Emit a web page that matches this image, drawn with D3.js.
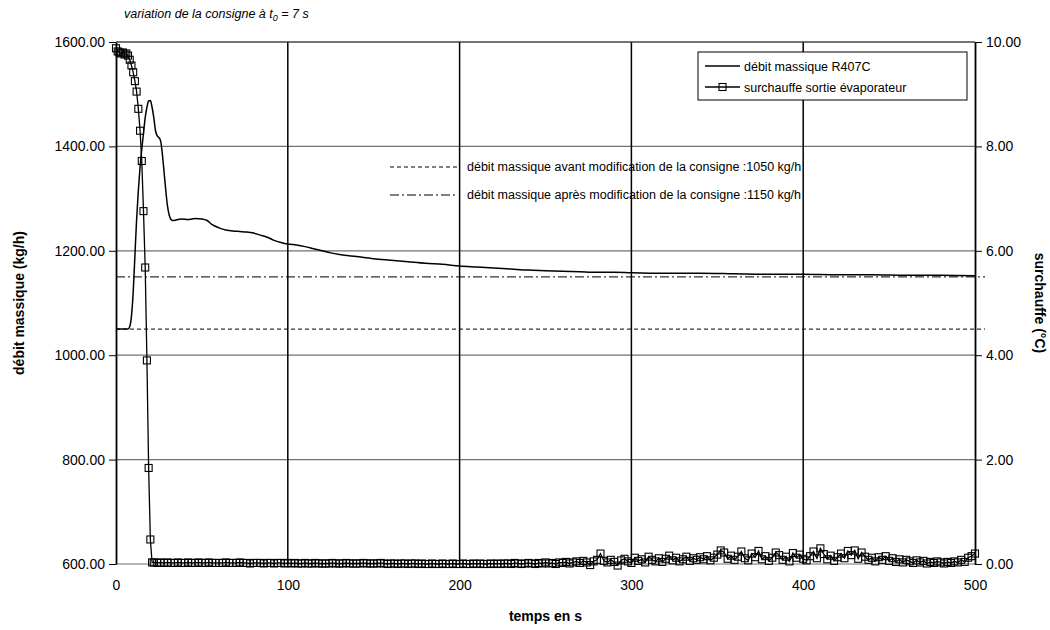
<!DOCTYPE html>
<html>
<head>
<meta charset="utf-8">
<script src="https://cdn.jsdelivr.net/npm/d3@7"></script>
<style>
  body { margin: 0; background: #fff; }
  svg { font-family: "Liberation Sans", Arial, sans-serif; }
</style>
</head>
<body>
<div id="chart"></div>
<script>
// mass flow R407C (kg/h), left axis
const flowTime = [0, 7, 8, 9, 10, 11, 12, 13, 14, 15, 16, 17, 18, 19, 20, 21, 22, 23, 24, 25, 26, 27, 28, 29, 30, 31, 32, 33, 35, 38, 42, 46, 50, 53, 56, 60, 64, 68, 72, 76, 80, 84, 88, 92, 96, 100, 105, 110, 115, 120, 125, 130, 140, 150, 160, 170, 180, 190, 200, 210, 220, 230, 240, 250, 260, 270, 280, 290, 300, 320, 340, 360, 380, 400, 420, 440, 460, 480, 500];
const flowValue = [1050, 1050, 1055, 1075, 1120, 1190, 1260, 1315, 1360, 1395, 1425, 1455, 1475, 1487, 1488, 1475, 1455, 1430, 1420, 1417, 1410, 1385, 1350, 1315, 1285, 1268, 1260, 1258, 1259, 1261, 1260, 1262, 1261, 1258, 1250, 1244, 1240, 1238, 1237, 1236, 1234, 1230, 1226, 1220, 1216, 1213, 1211, 1208, 1204, 1200, 1196, 1193, 1189, 1185, 1182, 1179, 1176, 1174, 1171, 1169, 1167, 1165, 1163, 1162, 1161, 1160, 1159, 1159, 1158, 1157, 1157, 1156, 1155, 1155, 1154, 1154, 1153, 1153, 1152];

// superheat at evaporator outlet (°C), right axis
const heatTimeStart = [0, 1, 2, 3, 4, 5, 6, 7, 8, 9, 10, 11, 12, 13, 14, 15, 16, 17, 18, 19, 20, 21];
const heatValueStart = [9.88, 9.82, 9.80, 9.78, 9.80, 9.76, 9.78, 9.74, 9.66, 9.55, 9.42, 9.25, 9.05, 8.72, 8.30, 7.72, 6.76, 5.68, 3.90, 1.84, 0.47, 0.03];
// from t = 22 s to 500 s, every 2 s
const heatValueTail = [
  0.03, 0.02, 0.03, 0.02, 0.03, 0.02, 0.02, 0.03, 0.02, 0.02,
  0.03, 0.02, 0.02, 0.03, 0.02, 0.02, 0.03, 0.02, 0.02, 0.02,
  0.02, 0.03, 0.02, 0.02, 0.02, 0.03, 0.02, 0.02, 0.01, 0.02,
  0.02, 0.02, 0.01, 0.02, 0.02, 0.01, 0.02, 0.02, 0.01, 0.02,
  0.01, 0.02, 0.01, 0.01, 0.02, 0.01, 0.01, 0.02, 0.01, 0.01,
  0.01, 0.01, 0.02, 0.01, 0.01, 0.01, 0.02, 0.01, 0.01, 0.01,
  0.01, 0.02, 0.01, 0.01, 0.01, 0.01, 0.02, 0.01, 0.00, 0.01,
  0.01, 0.00, 0.01, 0.01, 0.00, 0.01, 0.01, 0.00, 0.01, 0.00,
  0.00, 0.01, 0.00, 0.00, 0.01, 0.00, 0.00, 0.01, 0.00, 0.00,
  0.01, 0.00, 0.00, 0.01, 0.00, 0.01, 0.00, 0.00, 0.01, 0.00,
  0.01, 0.00, 0.01, 0.01, 0.00, 0.02, 0.01, 0.00, 0.01, 0.02,
  0.01, 0.00, 0.02, 0.01, 0.03, 0.01, 0.02, 0.00, 0.03, 0.02,
  0.04, 0.01, 0.03, 0.05, 0.02, 0.06, 0.03, -0.02, 0.05, 0.08,
  0.20, 0.06, 0.03, 0.08, 0.04, -0.03, 0.07, 0.10, 0.05, 0.02,
  0.12, 0.06, 0.09, 0.03, 0.14, 0.08, 0.05, 0.11, 0.04, 0.10,
  0.16, 0.07, 0.12, 0.05, 0.09, 0.14, 0.06, 0.11, 0.08, 0.13,
  0.09, 0.15, 0.07, 0.12, 0.18, 0.26, 0.22, 0.10, 0.16, 0.08,
  0.14, 0.24, 0.11, 0.07, 0.20, 0.13, 0.25, 0.09, 0.15, 0.06,
  0.12, 0.22, 0.17, 0.08, 0.14, 0.05, 0.21, 0.12, 0.18, 0.10,
  0.07, 0.15, 0.24, 0.11, 0.30, 0.19, 0.09, 0.16, 0.06, 0.13,
  0.20, 0.11, 0.25, 0.17, 0.26, 0.10, 0.22, 0.14, 0.08, 0.12,
  0.05, 0.13, 0.08, 0.15, 0.06, 0.11, 0.04, 0.09, 0.03, 0.08,
  0.05, 0.02, 0.07, 0.03, 0.06, 0.01, 0.04, 0.02, 0.05, 0.03,
  0.01, 0.04, 0.02, 0.05, 0.03, 0.08, 0.04, 0.12, 0.15, 0.20
];

// reference flow levels
const flowBefore = 1050;
const flowAfter = 1150;

const xTicks = [0, 100, 200, 300, 400, 500];
const yLeftTicks = [600, 800, 1000, 1200, 1400, 1600];
const yRightTicks = [0, 2, 4, 6, 8, 10];

const flowData = flowTime.map((t, i) => ({ t: t, v: flowValue[i] }));
const heatData = heatTimeStart.map((t, i) => ({ t: t, v: heatValueStart[i] }))
  .concat(heatValueTail.map((v, i) => ({ t: 22 + i * 2, v: v })));

const width = 1050, height = 630;
const plot = { left: 116, right: 975, top: 42, bottom: 564 };

const svg = d3.select("#chart")
  .append("svg")
  .attr("width", width)
  .attr("height", height);

const x = d3.scaleLinear().domain([0, 500]).range([plot.left, plot.right]);
const yL = d3.scaleLinear().domain([600, 1600]).range([plot.bottom, plot.top]);
const yR = d3.scaleLinear().domain([0, 10]).range([plot.bottom, plot.top]);

// horizontal grid (grey)
svg.append("g")
  .selectAll("line")
  .data(yLeftTicks)
  .join("line")
  .attr("x1", plot.left)
  .attr("x2", plot.right)
  .attr("y1", d => yL(d))
  .attr("y2", d => yL(d))
  .attr("stroke", "#707070")
  .attr("stroke-width", 1.2);

// vertical grid (black)
svg.append("g")
  .selectAll("line")
  .data(xTicks.slice(1, -1))
  .join("line")
  .attr("x1", d => x(d))
  .attr("x2", d => x(d))
  .attr("y1", plot.top)
  .attr("y2", plot.bottom)
  .attr("stroke", "#000")
  .attr("stroke-width", 1.5);

// left axis
const axL = svg.append("g")
  .attr("transform", `translate(${plot.left},0)`)
  .call(d3.axisLeft(yL).tickValues(yLeftTicks).tickFormat(d3.format(".2f")).tickSize(7).tickPadding(4).tickSizeOuter(0));
// right axis
const axR = svg.append("g")
  .attr("transform", `translate(${plot.right},0)`)
  .call(d3.axisRight(yR).tickValues(yRightTicks).tickFormat(d3.format(".2f")).tickSize(7).tickPadding(4).tickSizeOuter(0));
// bottom axis labels
const axB = svg.append("g")
  .attr("transform", `translate(0,${plot.bottom})`)
  .call(d3.axisBottom(x).tickValues(xTicks).tickSize(0).tickPadding(16));
axB.select(".domain").remove();

[axL, axR, axB].forEach(a => {
  a.selectAll("text")
    .attr("font-family", "Liberation Sans, Arial, sans-serif")
    .attr("font-size", 14)
    .attr("fill", "#000");
  a.selectAll(".domain").attr("stroke", "#000").attr("stroke-width", 1.8);
  a.selectAll(".tick line").attr("stroke", "#000");
});

// top border
svg.append("line")
  .attr("x1", plot.left).attr("x2", plot.right)
  .attr("y1", plot.top).attr("y2", plot.top)
  .attr("stroke", "#333").attr("stroke-width", 1.2);

// reference flow lines
svg.append("line")
  .attr("x1", plot.left).attr("x2", plot.right + 10)
  .attr("y1", yL(flowBefore)).attr("y2", yL(flowBefore))
  .attr("stroke", "#000").attr("stroke-width", 1)
  .attr("stroke-dasharray", "4,3");
svg.append("line")
  .attr("x1", plot.left).attr("x2", plot.right + 10)
  .attr("y1", yL(flowAfter)).attr("y2", yL(flowAfter))
  .attr("stroke", "#000").attr("stroke-width", 1)
  .attr("stroke-dasharray", "9,3,2,3");

// mass flow curve
svg.append("path")
  .datum(flowData)
  .attr("fill", "none")
  .attr("stroke", "#000")
  .attr("stroke-width", 1.5)
  .attr("d", d3.line().x(d => x(d.t)).y(d => yL(d.v)).curve(d3.curveMonotoneX));

// superheat curve + square markers (line shows through them)
svg.append("path")
  .datum(heatData)
  .attr("fill", "none")
  .attr("stroke", "#000")
  .attr("stroke-width", 1.3)
  .attr("d", d3.line().x(d => x(d.t)).y(d => yR(d.v)));

svg.append("g")
  .selectAll("rect")
  .data(heatData)
  .join("rect")
  .attr("x", d => x(d.t) - 3.5)
  .attr("y", d => yR(d.v) - 3.5)
  .attr("width", 7)
  .attr("height", 7)
  .attr("fill", "none")
  .attr("stroke", "#000")
  .attr("stroke-width", 1.1);

// title
const title = svg.append("text")
  .attr("x", 124)
  .attr("y", 18)
  .attr("font-size", 12.5)
  .attr("font-style", "italic")
  .text("variation de la consigne à t");
title.append("tspan").attr("font-size", 9).attr("dy", 3).text("0");
title.append("tspan").attr("dy", -3).text(" = 7 s");

// axis titles
svg.append("text")
  .attr("transform", `translate(19,${(plot.top + plot.bottom) / 2}) rotate(-90)`)
  .attr("text-anchor", "middle")
  .attr("dominant-baseline", "central")
  .attr("font-size", 14)
  .attr("font-weight", "bold")
  .text("débit massique (kg/h)");
svg.append("text")
  .attr("transform", `translate(1040,${(plot.top + plot.bottom) / 2}) rotate(90)`)
  .attr("text-anchor", "middle")
  .attr("dominant-baseline", "central")
  .attr("font-size", 14)
  .attr("font-weight", "bold")
  .text("surchauffe (°C)");
svg.append("text")
  .attr("x", (plot.left + plot.right) / 2)
  .attr("y", 621)
  .attr("text-anchor", "middle")
  .attr("font-size", 14)
  .attr("font-weight", "bold")
  .text("temps en s");

// legend box
const lg = svg.append("g");
lg.append("rect")
  .attr("x", 698).attr("y", 52)
  .attr("width", 269).attr("height", 48)
  .attr("fill", "#fff").attr("stroke", "#000").attr("stroke-width", 1);
lg.append("line")
  .attr("x1", 705).attr("x2", 740).attr("y1", 66).attr("y2", 66)
  .attr("stroke", "#000").attr("stroke-width", 1.5);
lg.append("text")
  .attr("x", 744).attr("y", 70.5)
  .attr("font-size", 12.5)
  .text("débit massique R407C");
lg.append("line")
  .attr("x1", 705).attr("x2", 740).attr("y1", 87).attr("y2", 87)
  .attr("stroke", "#000").attr("stroke-width", 1.3);
lg.append("rect")
  .attr("x", 719).attr("y", 83.5).attr("width", 7).attr("height", 7)
  .attr("fill", "none").attr("stroke", "#000").attr("stroke-width", 1.1);
lg.append("text")
  .attr("x", 744).attr("y", 91.5)
  .attr("font-size", 12.5)
  .text("surchauffe sortie évaporateur");

// annotations for the reference lines
const notes = [
  { label: "débit massique avant modification de la consigne :1050 kg/h", dash: "4,3", y: 167 },
  { label: "débit massique après modification de la consigne :1150 kg/h", dash: "9,3,2,3", y: 195 }
];
const ng = svg.append("g").selectAll("g").data(notes).join("g");
ng.append("line")
  .attr("x1", 390).attr("x2", 457)
  .attr("y1", d => d.y).attr("y2", d => d.y)
  .attr("stroke", "#000").attr("stroke-dasharray", d => d.dash);
ng.append("text")
  .attr("x", 467).attr("y", d => d.y + 4)
  .attr("font-size", 12.5)
  .text(d => d.label);
</script>
</body>
</html>
